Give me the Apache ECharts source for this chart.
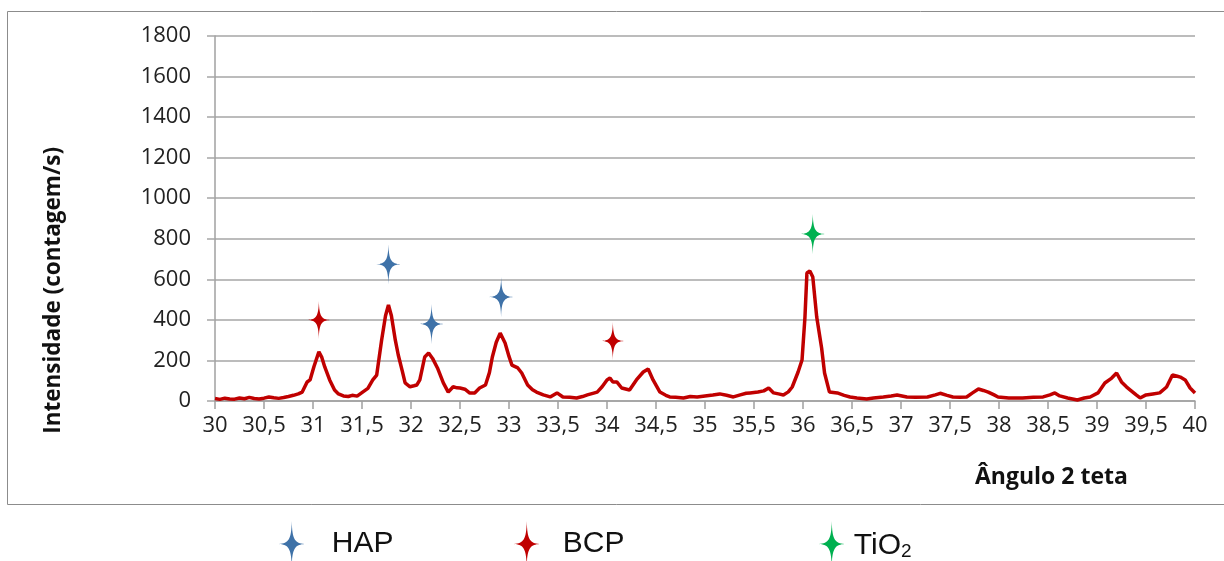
<!DOCTYPE html>
<html>
<head>
<meta charset="utf-8">
<script src="https://cdn.jsdelivr.net/npm/echarts@6/dist/echarts.min.js"></script>
<style>
  html, body { margin: 0; padding: 0; background: #fff; }
  #chart { width: 1224px; height: 561px; }
</style>
</head>
<body>
<div id="chart"></div>
<script>
// 2-theta angle (degrees) and intensity (counts/s)
const angle = [
  30.00, 30.05, 30.10, 30.15, 30.20, 30.25, 30.30, 30.35, 30.40, 30.45,
  30.50, 30.55, 30.60, 30.65, 30.70, 30.75, 30.80, 30.85, 30.89, 30.94,
  30.97, 31.01, 31.06, 31.09, 31.12, 31.17, 31.22, 31.26, 31.31, 31.36,
  31.40, 31.45, 31.51, 31.56, 31.61, 31.65, 31.70, 31.74, 31.77, 31.80,
  31.84, 31.87, 31.91, 31.94, 31.99, 32.03, 32.06, 32.09, 32.14, 32.18,
  32.22, 32.27, 32.33, 32.38, 32.43, 32.47, 32.50, 32.55, 32.60, 32.65,
  32.70, 32.76, 32.80, 32.83, 32.87, 32.91, 32.96, 33.00, 33.03, 33.09,
  33.13, 33.19, 33.24, 33.28, 33.35, 33.42, 33.49, 33.55, 33.62, 33.69,
  33.75, 33.80, 33.90, 33.95, 34.00, 34.03, 34.06, 34.10, 34.15, 34.23,
  34.30, 34.37, 34.42, 34.47, 34.54, 34.60, 34.64, 34.70, 34.78, 34.85,
  34.92, 35.00, 35.08, 35.15, 35.22, 35.29, 35.36, 35.42, 35.46, 35.54,
  35.60, 35.65, 35.70, 35.75, 35.80, 35.85, 35.89, 35.95, 35.99, 36.02,
  36.04, 36.07, 36.10, 36.14, 36.19, 36.22, 36.27, 36.35, 36.42, 36.48,
  36.55, 36.65, 36.72, 36.82, 36.90, 36.96, 37.06, 37.15, 37.27, 37.35,
  37.40, 37.47, 37.53, 37.60, 37.67, 37.73, 37.79, 37.84, 37.89, 37.95,
  37.99, 38.10, 38.24, 38.35, 38.45, 38.52, 38.57, 38.62, 38.70, 38.80,
  38.87, 38.93, 39.01, 39.08, 39.15, 39.20, 39.25, 39.30, 39.34, 39.40,
  39.44, 39.50, 39.57, 39.64, 39.71, 39.77, 39.82, 39.85, 39.90, 39.95,
  40.00
];
const intensity = [
  12, 8, 14, 10, 9, 15, 11, 18, 12, 10,
  14, 20, 16, 13, 17, 22, 28, 35, 44, 94,
  104, 170, 242, 215, 168, 104, 54, 35, 25, 22,
  28, 24, 45, 62, 104, 128, 300, 420, 473, 420,
  300, 227, 150, 89, 70, 75, 79, 104, 217, 237,
  210, 163, 89, 44, 70, 65, 64, 58, 39, 40,
  64, 79, 140, 217, 290, 335, 286, 220, 177, 163,
  138, 79, 55, 44, 30, 20, 40, 20, 18, 15,
  22, 30, 44, 70, 104, 113, 94, 94, 64, 54,
  104, 143, 158, 104, 44, 28, 20, 18, 15, 22,
  20, 25, 30, 35, 28, 20, 30, 38, 40, 44,
  50, 64, 40, 35, 30, 45, 69, 143, 202, 414,
  631, 641, 611, 414, 261, 138, 44, 40, 28, 20,
  15, 10, 15, 20, 25, 30, 20, 18, 20, 30,
  38, 28, 20, 18, 20, 40, 59, 52, 44, 30,
  20, 15, 15, 18, 20, 30, 40, 25, 15, 5,
  15, 20, 40, 89, 113, 138, 94, 70, 54, 30,
  15, 30, 35, 40, 69, 128, 122, 118, 104, 64,
  40
];

// phase markers [angle, intensity]
const hapMarks = [[31.77, 675], [32.21, 380], [32.92, 513]];
const bcpMarks = [[31.06, 400], [34.06, 296]];
const tioMarks = [[36.10, 823]];

// tall, thin four-pointed star
const starPath = 'path://M0,-1.8 C0.03,-0.35 0.25,-0.05 1,0 C0.25,0.05 0.03,0.35 0,1.8 ' +
  'C-0.03,0.35 -0.25,0.05 -1,0 C-0.25,-0.05 -0.03,-0.35 0,-1.8 Z';

const chart = echarts.init(document.getElementById('chart'));

const axisFont = { fontFamily: 'Open Sans', fontSize: 22, color: '#222' };

const legendBase = {
  top: 516,
  orient: 'horizontal',
  icon: starPath,
  itemWidth: 26,
  itemHeight: 46,
  textStyle: { fontFamily: 'Liberation Sans', fontSize: 30, color: '#111' }
};

const option = {
  backgroundColor: '#fff',
  animation: false,
  grid: { left: 215, right: 29, top: 36, bottom: 160 },
  xAxis: {
    type: 'value',
    min: 30,
    max: 40,
    interval: 0.5,
    axisLine: { lineStyle: { color: '#a0a0a0', width: 1.5 } },
    axisTick: { show: true, length: 8, lineStyle: { color: '#a0a0a0', width: 1.5 } },
    splitLine: { show: false },
    axisLabel: Object.assign({
      margin: 14,
      formatter: (v) => String(v).replace('.', ',')
    }, axisFont)
  },
  yAxis: {
    type: 'value',
    min: 0,
    max: 1800,
    interval: 200,
    axisLine: { show: true, lineStyle: { color: '#a0a0a0', width: 1.5 } },
    axisTick: { show: true, length: 8, lineStyle: { color: '#a6a6a6', width: 1.5 } },
    splitLine: { lineStyle: { color: '#a6a6a6', width: 1.5 } },
    axisLabel: Object.assign({ margin: 24, formatter: (v) => String(v) }, axisFont)
  },
  legend: [
    Object.assign({}, legendBase, {
      left: 274,
      data: ['HAP'],
      textStyle: Object.assign({}, legendBase.textStyle, { padding: [10, 0, 0, 22] })
    }),
    Object.assign({}, legendBase, {
      left: 509,
      data: ['BCP'],
      textStyle: Object.assign({}, legendBase.textStyle, { padding: [10, 0, 0, 18] })
    }),
    Object.assign({}, legendBase, {
      left: 814,
      data: ['TiO2'],
      formatter: () => '{a|TiO}{b|2}',
      textStyle: Object.assign({}, legendBase.textStyle, {
        padding: [4, 0, 0, 4],
        rich: {
          a: { fontFamily: 'Liberation Sans', fontSize: 30, color: '#111' },
          b: { fontFamily: 'Liberation Sans', fontSize: 19, color: '#111', padding: [12, 0, 0, 0] }
        }
      })
    })
  ],
  graphic: [
    {
      type: 'rect',
      silent: true,
      shape: { x: 7.5, y: 11.5, width: 1230, height: 493 },
      style: { fill: 'none', stroke: '#8c8c8c', lineWidth: 1 }
    },
    {
      type: 'text',
      left: 42,
      top: 147,
      rotation: Math.PI / 2,
      style: {
        text: 'Intensidade (contagem/s)',
        fontFamily: 'Open Sans',
        fontWeight: 'bold',
        fontSize: 22.5,
        fill: '#111'
      }
    },
    {
      type: 'text',
      left: 975,
      top: 466,
      style: {
        text: 'Ângulo 2 teta',
        fontFamily: 'Open Sans',
        fontWeight: 'bold',
        fontSize: 23,
        fill: '#111'
      }
    }
  ],
  series: [
    {
      name: 'DRX',
      type: 'line',
      data: angle.map((a, i) => [a, intensity[i]]),
      showSymbol: false,
      lineStyle: { color: '#c00000', width: 3.5 },
      z: 3
    },
    {
      name: 'HAP',
      type: 'scatter',
      symbol: starPath,
      symbolSize: [24, 40],
      data: hapMarks,
      itemStyle: { color: '#3f72a8', opacity: 1 },
      z: 4
    },
    {
      name: 'BCP',
      type: 'scatter',
      symbol: starPath,
      symbolSize: [22, 38],
      data: bcpMarks,
      itemStyle: { color: '#c00000', opacity: 1 },
      z: 4
    },
    {
      name: 'TiO2',
      type: 'scatter',
      symbol: starPath,
      symbolSize: [24, 40],
      data: tioMarks,
      itemStyle: { color: '#00b050', opacity: 1 },
      z: 4
    }
  ]
};

chart.setOption(option);
</script>
</body>
</html>
